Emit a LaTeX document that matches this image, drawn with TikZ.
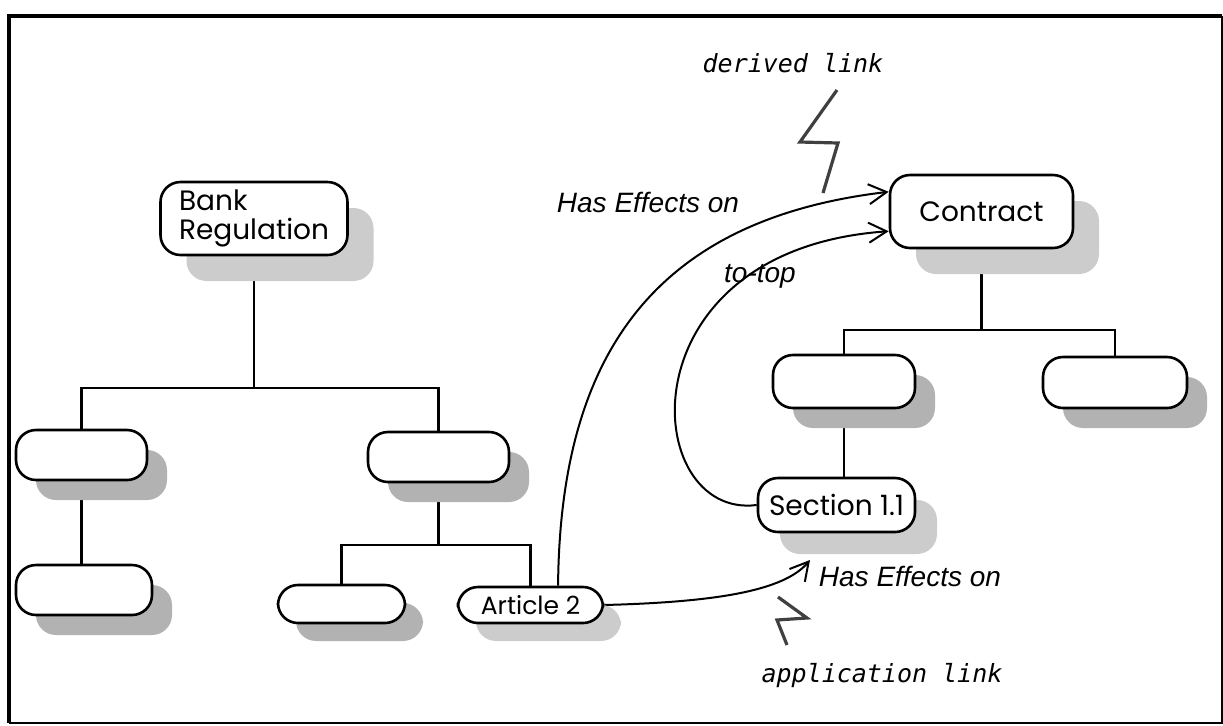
\documentclass[tikz,border=0pt]{standalone}
\usepackage{fontspec}
\setmainfont{Poppins}
\newfontfamily\labelfont{Liberation Sans}
\newfontfamily\linkfont{DejaVu Sans Mono}
\usetikzlibrary{arrows.meta,shadows,backgrounds}

\begin{document}
\begin{tikzpicture}[
    x=0.5pt, y=-0.5pt,
    >={Straight Barb[length=9pt,width=10pt]},
    box/.style={
        draw=black,
        line width=1.3pt,
        rounded corners=10pt,
        fill=white,
        inner sep=0pt,
        font=\fontsize{14}{14.5}\selectfont
    },
    blank/.style={
        box,
        drop shadow={shadow xshift=#1, shadow yshift=-#1, fill=gray!60, opacity=1}
    },
    blank/.default=10pt,
    named/.style={
        box,
        drop shadow={shadow xshift=#1, shadow yshift=-#1, fill=gray!40, opacity=1}
    },
    named/.default=11pt,
    tree/.style={
        line width=1.3pt
    },
    link/.style={
        ->,
        line width=1pt
    },
    linklabel/.style={
        font=\labelfont\itshape\fontsize{14}{16}\selectfont
    },
    kind/.style={
        font=\linkfont\itshape\fontsize{12.5}{14}\selectfont
    },
    bolt/.style={
        line width=1.6pt,
        black!75
    }
]
\useasboundingbox (0,0) rectangle (1223,725);

% Frame
\draw[line width=2pt] (1222,16) -- (9,16) -- (9,723);
\draw[line width=0.6pt] (9,723) -- (1222,723) -- (1222,16);

% Regulation tree
\node[named=13pt, minimum width=93.5pt, minimum height=36.5pt, align=left] (breg) at (254,218.5) {Bank\\Regulation};
\node[blank, minimum width=65.5pt, minimum height=25pt] (l1) at (81.5,455) {};
\node[blank, minimum width=68pt, minimum height=25pt] (l2) at (84,590) {};
\node[blank, minimum width=70.5pt, minimum height=25pt] (r1) at (438.5,457) {};
\node[blank=9pt, minimum width=63.5pt, minimum height=19pt] (r2) at (341.5,604) {};
\node[named=9pt, minimum width=72.5pt, minimum height=18pt, font=\fontsize{12.5}{14}\selectfont] (art2) at (530.5,605) {Article 2};

% Contract tree
\node[named=13pt, minimum width=91.5pt, minimum height=36.5pt] (contract) at (981.5,211.5) {Contract};
\node[blank, minimum width=71pt, minimum height=26.5pt] (cl) at (844,381.5) {};
\node[blank, minimum width=72pt, minimum height=25.5pt] (cr) at (1115,382.5) {};
\node[named, minimum width=78.5pt, minimum height=27pt] (sec) at (836.5,505) {Section 1.1};

% Labels
\node[linklabel] (eff1) at (648,202) {Has Effects on};
\node[linklabel] (totop) at (760,276) {to-top};
\node[linklabel] (eff2) at (910,576) {Has Effects on};
\node[kind] (derived) at (793,63) {derived link};
\node[kind] (applic) at (882,676) {application link};

% Junctions
\coordinate (jbank) at (254,388);
\coordinate (jr1) at (438.5,545);
\coordinate (jcon) at (981.5,330);
\coordinate (apptip) at (810,560);

\begin{scope}[on background layer]
% Tree lines
\draw[tree] (breg.south) -- (jbank);
\draw[tree] (l1.north) |- (jbank) -| (r1.north);
\draw[tree] (l1.south) -- (l1.south |- l2.north);
\draw[tree] (r1.south) -- (jr1);
\draw[tree] (r2.north) |- (jr1) -| (art2.north);

\draw[tree] (contract.south) -- (jcon);
\draw[tree] (cl.north) |- (jcon) -| (cr.north);
\draw[tree] (cl.south) -- (cl.south |- sec.north);

% Links
\draw[link] (art2.35) .. controls (560,360) and (650,220) .. (contract.168);
\draw[link] (sec.west) .. controls (640,520) and (620,250) .. (contract.192);
\draw[link] (art2.east) .. controls (720,602) and (785,590) .. (apptip);
\end{scope}

% Bolts
\draw[bolt] (837,90) -- (800,142) -- (838,143) -- (823,193);
\draw[bolt] (778,597) -- (807,618) -- (777,620) -- (787,645);

\end{tikzpicture}
\end{document}
